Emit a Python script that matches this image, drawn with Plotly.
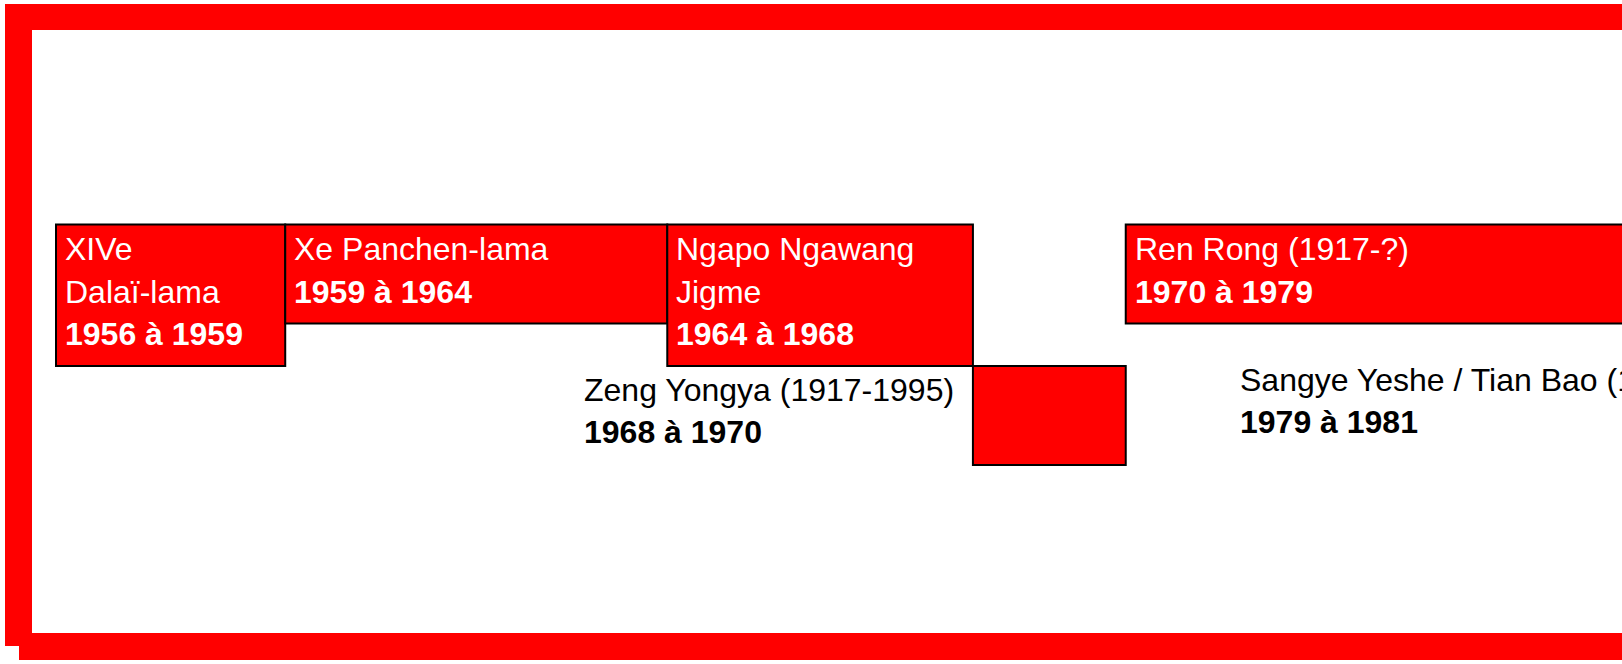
import plotly.graph_objects as go

# ---------------- data ----------------
names = [
    "XIVe<br>Dalaï-lama",
    "Xe Panchen-lama",
    "Ngapo Ngawang<br>Jigme",
    "Zeng Yongya (1917-1995)",
    "Ren Rong (1917-?)",
    "Sangye Yeshe / Tian Bao (1917-2008)",
]
start_years = [1956, 1959, 1964, 1968, 1970, 1979]
end_years = [1959, 1964, 1968, 1970, 1979, 1981]
period_labels = [f"{s} à {e}" for s, e in zip(start_years, end_years)]

# ---------------- layout (pixels from top) ----------------
W, H = 1622, 664
box_top = [224.5, 224.5, 224.5, 366, 224.5, 323.5]
box_bottom = [366, 323.5, 366, 465, 323.5, 423]
label_inside = [True, True, True, False, True, False]
label_xshift = [7, 7, 7, -17, 7, -30]
first_line_y = [249, 249, 249, 390, 249, 380]
LINE_STEP = 42.5

RED = "#FF0000"
FONT = "Liberation Sans, Arial, sans-serif"
FSIZE = 32

# x axis: years; 1956 -> 56px, 76.41 px / year
px_per_year = 76.41
x_min = 1956 - 56 / px_per_year
x_max = x_min + W / px_per_year


def year_to_paper(yr):
    return (yr - x_min) / (x_max - x_min)


fig = go.Figure()
# invisible anchor trace so the cartesian axes exist
fig.add_trace(go.Scatter(x=[x_min, x_max], y=[0, H], mode="markers",
                         marker=dict(opacity=0), hoverinfo="skip", showlegend=False))

shapes = []


def prect(x0, y0, x1, y1):
    return dict(type="rect", xref="paper", yref="paper",
                x0=x0 / W, x1=x1 / W, y0=1 - y1 / H, y1=1 - y0 / H,
                fillcolor=RED, line=dict(width=0), layer="below")


# decorative red frame
shapes.append(prect(5, 4, W, 30))
shapes.append(prect(5, 4, 32, 646))
shapes.append(prect(19, 633, W, 660))

annotations = []
for i, name in enumerate(names):
    shapes.append(dict(type="rect", xref="x", yref="y",
                       x0=start_years[i], x1=end_years[i],
                       y0=box_top[i], y1=box_bottom[i],
                       fillcolor=RED, line=dict(color="black", width=2),
                       layer="above"))
    lines = name.split("<br>") + [f"<b>{period_labels[i]}</b>"]
    if label_inside[i]:
        for j, t in enumerate(lines):
            y = first_line_y[i] + j * LINE_STEP
            annotations.append(dict(x=start_years[i], y=y, xref="x", yref="y",
                                    text=t, showarrow=False, xanchor="left",
                                    yanchor="middle", xshift=label_xshift[i],
                                    font=dict(family=FONT, size=FSIZE, color="white")))
    else:
        yc = first_line_y[i] + (len(lines) - 1) * LINE_STEP / 2
        annotations.append(dict(x=year_to_paper(start_years[i]), y=1 - yc / H,
                                xref="paper", yref="paper",
                                text="<br>".join(lines), showarrow=False,
                                xanchor="right", yanchor="middle",
                                xshift=label_xshift[i],
                                align="left",
                                font=dict(family=FONT, size=FSIZE, color="black")))

fig.update_layout(
    width=W, height=H,
    margin=dict(l=0, r=0, t=0, b=0),
    paper_bgcolor="white", plot_bgcolor="white",
    showlegend=False,
    xaxis=dict(range=[x_min, x_max], visible=False, fixedrange=True),
    yaxis=dict(range=[H, 0], visible=False, fixedrange=True),
    shapes=shapes,
    annotations=annotations,
)

fig.write_html(
    "out.html",
    config={"displayModeBar": False},
    post_script="document.body.style.margin='0';document.body.style.padding='0';"
                "document.body.style.overflow='hidden';",
)
